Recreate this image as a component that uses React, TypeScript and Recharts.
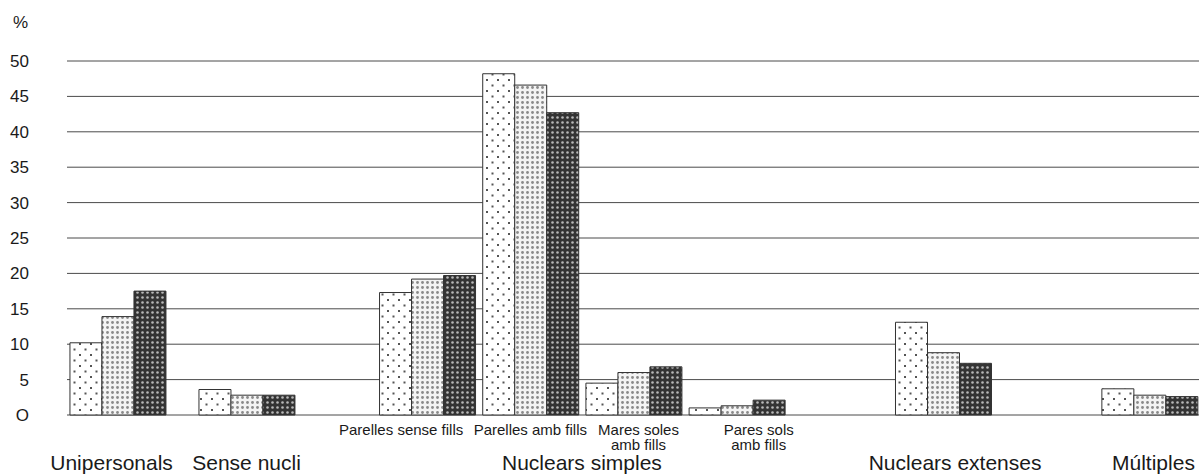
import React from 'react';
import { BarChart, Bar, XAxis, YAxis, CartesianGrid, Label } from 'recharts';

// Household types; '\n' marks where the original wraps a label
const categories = [
  'Unipersonals',
  'Sense nucli',
  'Parelles sense fills',
  'Parelles amb fills',
  'Mares soles\namb fills',
  'Pares sols\namb fills',
  'Nuclears extenses',
  'Múltiples',
];
// Upper-level grouping (Nuclears simples has four sub-types)
const groups = [
  'Unipersonals',
  'Sense nucli',
  'Nuclears simples',
  'Nuclears simples',
  'Nuclears simples',
  'Nuclears simples',
  'Nuclears extenses',
  'Múltiples',
];
// Slot of each group on the original's uneven category axis
const slots = [0, 1.25, 3, 4, 5, 6, 8, 10];

const serie1 = [10.2, 3.6, 17.3, 48.2, 4.5, 1.0, 13.1, 3.7];
const serie2 = [13.9, 2.8, 19.2, 46.6, 6.0, 1.3, 8.8, 2.8];
const serie3 = [17.5, 2.8, 19.7, 42.7, 6.8, 2.1, 7.3, 2.6];

const yTicks = [0, 5, 10, 15, 20, 25, 30, 35, 40, 45, 50];

const data = categories.map((c, i) => ({
  name: c,
  group: groups[i],
  slot: slots[i],
  s1: serie1[i],
  s2: serie2[i],
  s3: serie3[i],
}));

const groupNames = groups.filter((g, i) => groups.indexOf(g) === i);
const groupSlots = groupNames.map((g) => {
  const s = slots.filter((_, i) => groups[i] === g);
  return s.reduce((a, b) => a + b, 0) / s.length;
});
const subSlots = slots.filter((_, i) => groups[i] !== categories[i]);

const FONT = '"Liberation Sans", Arial, sans-serif';

// the original shifts some labels sideways so they don't collide
const nudge: Record<string, number> = {
  'Parelles sense fills': -26,
  'Mares soles\namb fills': 5,
  'Pares sols\namb fills': 22,
  Unipersonals: -6,
  'Nuclears extenses': 12,
  'Múltiples': 4,
};

const SubTick = (props: any) => {
  const { x, y, payload } = props;
  const i = slots.indexOf(payload.value);
  if (i < 0) return <g />;
  const label = categories[i];
  const lines = label.split('\n');
  const tx = x + (nudge[label] || 0);
  return (
    <text x={tx} y={y + 20} textAnchor="middle" fontSize={15} fill="#1a1a1a" fontFamily={FONT}>
      {lines.map((l, k) => (
        <tspan key={k} x={tx} dy={k ? 15 : 0}>
          {l}
        </tspan>
      ))}
    </text>
  );
};

const GroupTick = (props: any) => {
  const { x, y, payload } = props;
  const i = groupSlots.indexOf(payload.value);
  if (i < 0) return <g />;
  const label = groupNames[i];
  return (
    <text x={x + (nudge[label] || 0)} y={y + 19} textAnchor="middle" fontSize={21} fill="#1a1a1a" fontFamily={FONT}>
      {label}
    </text>
  );
};

const App: React.FC = () => {
  return (
    <div style={{ position: 'absolute', left: 0, top: 0, width: 1199, height: 475, background: '#fff' }}>
      <BarChart
        width={1199}
        height={475}
        data={data}
        margin={{ top: 61, right: 0, bottom: 0, left: 0 }}
        barGap={0}
      >
        <defs>
          <pattern id="pSparse" width="11" height="11" patternUnits="userSpaceOnUse">
            <rect width="11" height="11" fill="#fff" />
            <rect x="2" y="2" width="2" height="2" fill="#555" />
            <rect x="7.5" y="7.5" width="2" height="2" fill="#555" />
          </pattern>
          <pattern id="pLight" width="5" height="5" patternUnits="userSpaceOnUse">
            <rect width="5" height="5" fill="#f4f4f4" />
            <circle cx="2.5" cy="2.5" r="1.4" fill="#8a8a8a" />
          </pattern>
          <pattern id="pDark" width="5" height="5" patternUnits="userSpaceOnUse">
            <rect width="5" height="5" fill="#333" />
            <circle cx="2.5" cy="2.5" r="1.3" fill="#b8b8b8" />
          </pattern>
        </defs>
        <CartesianGrid vertical={false} stroke="#4a4a4a" strokeWidth={1} />
        <XAxis
          dataKey="slot"
          type="number"
          domain={[-0.49, 10.48]}
          ticks={subSlots}
          interval={0}
          tick={<SubTick />}
          tickSize={0}
          tickMargin={0}
          tickLine={false}
          axisLine={false}
          height={36}
        />
        <XAxis
          xAxisId="group"
          dataKey="slot"
          type="number"
          domain={[-0.49, 10.48]}
          ticks={groupSlots}
          interval={0}
          tick={<GroupTick />}
          tickSize={0}
          tickMargin={0}
          tickLine={false}
          axisLine={false}
          height={24}
        />
        <YAxis
          type="number"
          domain={[0, 50]}
          ticks={yTicks}
          interval={0}
          width={67}
          tickSize={0}
          tickMargin={38}
          tickLine={false}
          axisLine={false}
          tickFormatter={(v: number) => (v === 0 ? 'O' : String(v))}
          tick={{ fontSize: 17, fill: '#1a1a1a', fontFamily: FONT }}
        >
          <Label
            value="%"
            position="top"
            offset={33}
            dx={-13}
            style={{ fontSize: 17, fill: '#1a1a1a', fontFamily: FONT }}
          />
        </YAxis>
        <Bar dataKey="s1" barSize={32} fill="url(#pSparse)" stroke="#333" strokeWidth={1} isAnimationActive={false} />
        <Bar dataKey="s2" barSize={32} fill="url(#pLight)" stroke="#333" strokeWidth={1} isAnimationActive={false} />
        <Bar dataKey="s3" barSize={32} fill="url(#pDark)" stroke="#333" strokeWidth={1} isAnimationActive={false} />
      </BarChart>
    </div>
  );
};

export default App;
